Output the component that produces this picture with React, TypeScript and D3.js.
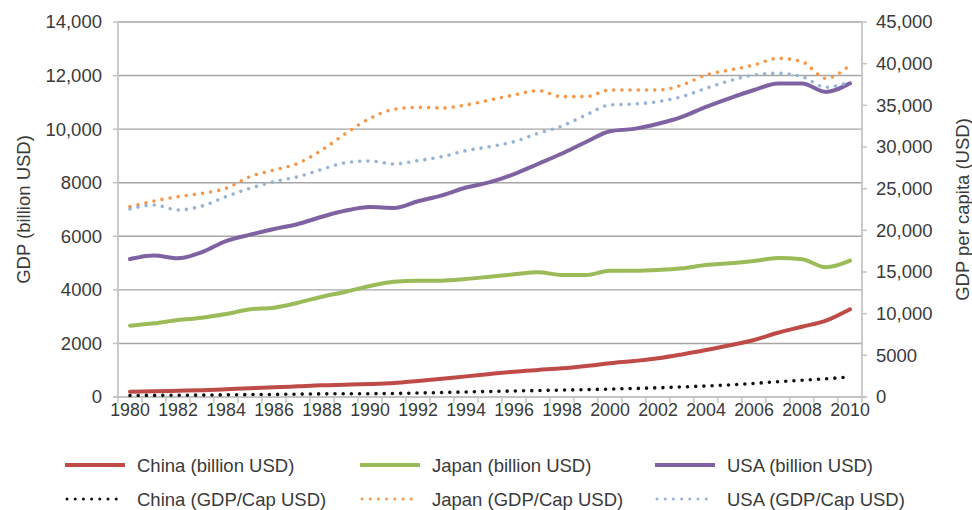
import React from "react";
import * as d3 from "d3";

const years = [1980,1981,1982,1983,1984,1985,1986,1987,1988,1989,1990,1991,1992,1993,1994,1995,1996,1997,1998,1999,2000,2001,2002,2003,2004,2005,2006,2007,2008,2009,2010];
const xTickLabels = [1980,1982,1984,1986,1988,1990,1992,1994,1996,1998,2000,2002,2004,2006,2008,2010];
const leftTicks = [0,2000,4000,6000,8000,10000,12000,14000];
const rightTicks = [0,5000,10000,15000,20000,25000,30000,35000,40000,45000];

const chinaGdp = [198,215,235,255,290,330,360,400,440,460,485,525,600,680,770,855,946,1010,1070,1157,1260,1344,1444,1590,1755,1930,2130,2400,2625,2849,3273];
const japanGdp = [2662,2750,2875,2962,3099,3273,3335,3521,3745,3932,4144,4305,4342,4342,4405,4491,4580,4655,4555,4555,4716,4716,4741,4803,4928,4990,5077,5189,5140,4842,5089];
const usaGdp = [5150,5280,5180,5410,5820,6060,6270,6460,6730,6960,7090,7060,7310,7530,7820,8020,8320,8700,9090,9520,9920,10010,10200,10460,10830,11160,11460,11700,11700,11390,11710];
const chinaCap = [186,193,208,227,258,289,309,340,374,385,394,425,480,540,604,663,719,777,828,882,949,1019,1103,1206,1320,1455,1627,1842,2008,2183,2400];
const japanCap = [22840,23520,24040,24440,25040,26440,27240,28040,29640,31640,33440,34520,34760,34680,35040,35640,36240,36760,36040,36040,36840,36840,36840,37440,38640,39240,39840,40640,40240,38240,39840];
const usaCap = [22560,23040,22440,22920,24040,25040,25840,26440,27320,28120,28320,27960,28360,28840,29560,30040,30640,31640,32520,33840,35040,35160,35440,36040,37040,37960,38640,38840,38440,37160,37840];

const seriesNames = ["China (billion USD)","Japan (billion USD)","USA (billion USD)","China (GDP/Cap USD)","Japan (GDP/Cap USD)","USA (GDP/Cap USD)"];
const seriesColors = ["#BE4B48","#9BBB59","#7F62A1","#111111","#F79646","#95B3D7"];

const W = 972, H = 510;
const L = 118, R = 862, T = 22, B = 397;
const FONT = "'Liberation Sans', Arial, sans-serif";
const TXT = "#3a3a3a";

export default function App() {
  const x = d3.scaleBand<number>().domain(years).range([L, R]).padding(0);
  const cx = (yr: number) => (x(yr) as number) + x.bandwidth() / 2;
  const yL = d3.scaleLinear().domain([0, 14000]).range([B, T]);
  const yR = d3.scaleLinear().domain([0, 45000]).range([B, T]);
  const fmt = (v: number) => (v >= 10000 ? d3.format(",")(v) : String(v));

  const mk = (vals: number[], sc: d3.ScaleLinear<number, number>) =>
    d3.line<number>().x((_, i) => cx(years[i])).y((v) => sc(v)).curve(d3.curveMonotoneX)(vals) || "";

  const solid = [
    { d: mk(chinaGdp, yL), c: seriesColors[0] },
    { d: mk(japanGdp, yL), c: seriesColors[1] },
    { d: mk(usaGdp, yL), c: seriesColors[2] },
  ];
  const dotted = [
    { d: mk(chinaCap, yR), c: seriesColors[3] },
    { d: mk(japanCap, yR), c: seriesColors[4] },
    { d: mk(usaCap, yR), c: seriesColors[5] },
  ];

  const boundaries = years.map((yr) => x(yr) as number).concat([R]);

  const legendCols = [65, 360, 655];
  const legendRows = [465, 499];

  return (
    <svg width={W} height={H} style={{ position: "absolute", left: 0, top: 0, background: "#fff" }} fontFamily={FONT}>
      {leftTicks.filter((t) => t > 0).map((t) => (
        <line key={"g" + t} x1={L} x2={R} y1={yL(t)} y2={yL(t)} stroke="#a6a6a6" strokeWidth={1.4} />
      ))}
      <line x1={L} x2={L} y1={T} y2={B} stroke="#c4c4c4" strokeWidth={1.8} />
      <line x1={R} x2={R} y1={T} y2={B} stroke="#c4c4c4" strokeWidth={1.8} />
      <line x1={L - 5} x2={R + 5} y1={B} y2={B} stroke="#c4c4c4" strokeWidth={1.8} />
      {leftTicks.map((t) => (
        <g key={"l" + t}>
          <line x1={L - 5} x2={L} y1={yL(t)} y2={yL(t)} stroke="#c4c4c4" strokeWidth={1.5} />
          <text x={102} y={yL(t)} dy="0.35em" textAnchor="end" fontSize={18.5} fill={TXT}>{fmt(t)}</text>
        </g>
      ))}
      {rightTicks.map((t) => (
        <g key={"r" + t}>
          <line x1={R} x2={R + 5} y1={yR(t)} y2={yR(t)} stroke="#c4c4c4" strokeWidth={1.5} />
          <text x={876} y={yR(t)} dy="0.35em" textAnchor="start" fontSize={18.5} fill={TXT}>{fmt(t)}</text>
        </g>
      ))}
      {boundaries.map((bx, i) => (
        <line key={"xt" + i} x1={bx} x2={bx} y1={B} y2={B + 6} stroke="#c4c4c4" strokeWidth={1.5} />
      ))}
      {xTickLabels.map((yr) => (
        <text key={"xl" + yr} x={cx(yr)} y={416} textAnchor="middle" fontSize={17.8} fill={TXT}>{yr}</text>
      ))}
      <text transform={`translate(30,${(T + B) / 2}) rotate(-90)`} textAnchor="middle" fontSize={18.5} fill={TXT}>GDP (billion USD)</text>
      <text transform={`translate(969,${(T + B) / 2}) rotate(-90)`} textAnchor="middle" fontSize={18.5} fill={TXT}>GDP per capita (USD)</text>
      {solid.map((s, i) => (
        <path key={"s" + i} d={s.d} fill="none" stroke={s.c} strokeWidth={4} strokeLinejoin="round" strokeLinecap="round" />
      ))}
      {dotted.map((s, i) => (
        <path key={"d" + i} d={s.d} fill="none" stroke={s.c} strokeWidth={3.6} strokeDasharray="0 8.2" strokeLinecap="round" />
      ))}
      {seriesNames.map((n, i) => {
        const col = i % 3;
        const row = Math.floor(i / 3);
        const lx = legendCols[col];
        const ly = legendRows[row];
        return (
          <g key={"lg" + i}>
            {row === 0 ? (
              <line x1={lx} x2={lx + 60} y1={ly} y2={ly} stroke={seriesColors[i]} strokeWidth={4} />
            ) : (
              <line x1={lx + 2} x2={lx + 56} y1={ly} y2={ly} stroke={seriesColors[i]} strokeWidth={3} strokeDasharray="0 8.2" strokeLinecap="round" />
            )}
            <text x={lx + 72} y={ly + 6.5} fontSize={18.5} fill={TXT}>{n}</text>
          </g>
        );
      })}
    </svg>
  );
}
